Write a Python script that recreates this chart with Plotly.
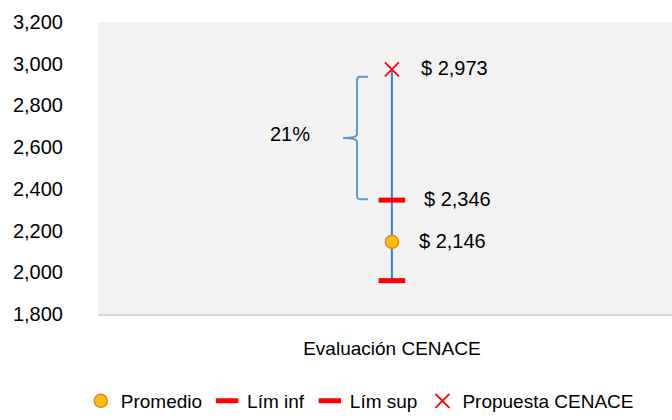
import plotly.graph_objects as go

categories = ["Evaluación CENACE"]
promedio = [2146]
lim_inf = [1960]
lim_sup = [2346]
propuesta = [2973]
pct_label = "21%"

FONT = "Liberation Sans"
fig = go.Figure()

# vertical range line (from Lím inf to Propuesta)
fig.add_trace(go.Scatter(
    x=categories * 2, y=[lim_inf[0], propuesta[0]], mode="lines",
    line=dict(color="#2F7FCF", width=2), showlegend=False, hoverinfo="skip"))

fig.add_trace(go.Scatter(
    x=categories, y=promedio, mode="markers", name="Promedio",
    marker=dict(symbol="circle", size=13, color="#FFC000",
                line=dict(color="#ED7D31", width=1.5))))
fig.add_trace(go.Scatter(
    x=categories, y=lim_inf, mode="markers", name="Lím inf",
    marker=dict(symbol="line-ew", size=19, color="#FF0000",
                line=dict(color="#FF0000", width=5))))
fig.add_trace(go.Scatter(
    x=categories, y=lim_sup, mode="markers", name="Lím sup",
    marker=dict(symbol="line-ew", size=19, color="#FF0000",
                line=dict(color="#FF0000", width=5))))
fig.add_trace(go.Scatter(
    x=categories, y=propuesta, mode="markers", name="Propuesta CENACE",
    marker=dict(symbol="x-thin", size=14, color="#FF0000",
                line=dict(color="#FF0000", width=1.8))))

# value labels
for val, shift in [(propuesta[0], 27), (lim_sup[0], 30), (promedio[0], 25)]:
    fig.add_annotation(x=categories[0], y=val, text=f"$ {val:,}", showarrow=False,
                       xanchor="left", xshift=shift, yshift=1,
                       font=dict(family=FONT, size=20, color="#000000"))

# brace between Lím sup and Propuesta
yt, yb = 2937, 2350
ym = (yt + yb) / 2
xa, xv, xt = 0.4704, 0.4512, 0.4268
path = (f"M {xa} {yt} L {xv+0.005} {yt} Q {xv} {yt} {xv} {yt-20} "
        f"L {xv} {ym+18} Q {xv} {ym} {xt} {ym} Q {xv} {ym} {xv} {ym-18} "
        f"L {xv} {yb+20} Q {xv} {yb} {xv+0.005} {yb} L {xa} {yb}")
fig.add_shape(type="path", path=path, xref="paper", yref="y",
              line=dict(color="#5B9BD5", width=2))
fig.add_annotation(x=0.334, y=ym + 18, xref="paper", yref="y", text=pct_label,
                   showarrow=False, font=dict(family=FONT, size=20, color="#000000"))

fig.update_layout(
    width=672, height=420,
    margin=dict(l=98, r=0, t=22, b=100),
    paper_bgcolor="#FFFFFF", plot_bgcolor="#F2F2F2",
    font=dict(family=FONT, size=20, color="#000000"),
    showlegend=True,
    legend=dict(orientation="h", x=0.456, xanchor="center", y=-0.298, yanchor="middle",
                font=dict(family=FONT, size=19), itemwidth=30, tracegroupgap=0,
                bgcolor="rgba(0,0,0,0)"),
)
fig.update_xaxes(type="category", range=[-0.512, 0.488], showgrid=False, zeroline=False,
                 showline=True, linecolor="#D9D9D9", linewidth=2, ticks="",
                 ticklabelstandoff=16, tickfont=dict(family=FONT, size=19))
fig.update_yaxes(range=[1800, 3200], dtick=200, tickformat=",", showgrid=False,
                 zeroline=False, showline=False, ticks="", ticklabelstandoff=34,
                 tickfont=dict(family=FONT, size=20))

fig.write_html("out.html", config={"displayModeBar": False},
               post_script="document.body.style.margin='0';document.body.style.overflow='hidden';")
